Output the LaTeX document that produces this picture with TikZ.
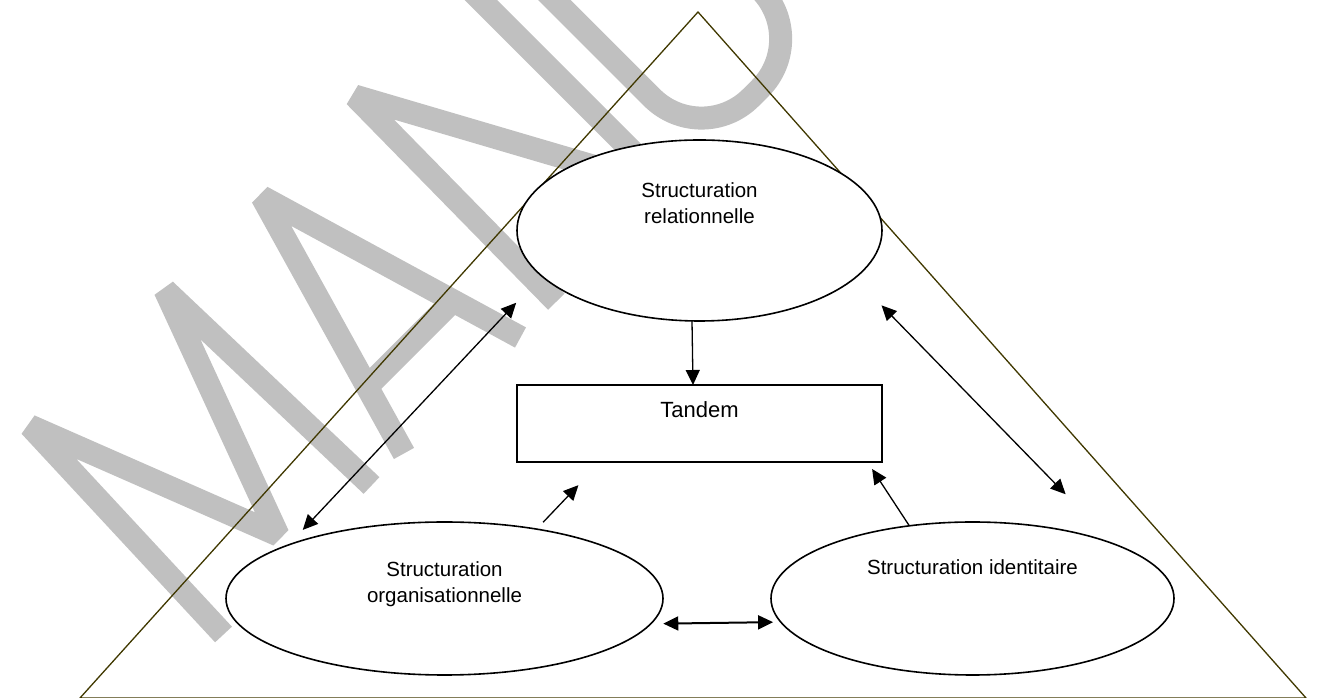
\documentclass[tikz,border=0pt]{standalone}
\usepackage{fontspec}
\setmainfont{Liberation Sans}
\usepackage{tikz}
\usetikzlibrary{shapes.geometric,positioning,arrows.meta}

\definecolor{wmgray}{RGB}{192,192,192}
\definecolor{triline}{RGB}{64,56,0}

\tikzset{
	bubble/.style={ellipse,draw,line width=1.6pt,fill=white,inner sep=0pt,outer sep=0pt},
	box/.style={rectangle,draw,line width=1.6pt,fill=white,minimum width=365pt,minimum height=77pt,inner sep=0pt,outer sep=0pt},
	lbl/.style={align=center,font=\fontsize{20.5}{26}\selectfont,inner sep=0pt},
	link/.style={line width=1.3pt,-{Triangle[length=15pt,width=14pt]}},
	dlink/.style={line width=1.3pt,{Triangle[length=15pt,width=14pt]}-{Triangle[length=15pt,width=14pt]}},
	wmark/.style={draw=wmgray,line width=23pt,line join=bevel}
}

\begin{document}
\begin{tikzpicture}[x=1pt,y=1pt,node distance=2cm,on grid,auto]
	\useasboundingbox (0,0) rectangle (1317,698);
	% watermark, drawn in its own slanted frame
	\begin{scope}[cm={0.7071,0.7071,0.7071,-0.7071,(0,698)}]
	\draw[wmark] (-290.6,606.7) -- (-280,322.4) -- (-181.7,574.9) -- (-88.4,321.7) -- (-80.6,606); % M
	\draw[wmark] (-35,606.3) -- (46,324.6) -- (129.4,606.7); % A
	\draw[wmark] (-14,533) -- (107.7,533);
	\draw[wmark] (180,606.7) -- (183,318.9) -- (340,606.7) -- (340,300); % N
	\draw[wmark,rounded corners=70pt] (392,290) -- (392,600) -- (545,600) -- (545,290); % U
	\end{scope}
	% triangle
	\coordinate (apex) at (698,686);
	\coordinate (baseL) at (80,0);
	\coordinate (baseR) at (1306,0);
	\draw[triline,line width=1.3pt] (apex) -- (baseL) -- (baseR) -- cycle;
	% nodes
	\node[box] (tandem) at (699.5,274.5) {};
	\node[bubble,minimum width=365pt,minimum height=181pt] (rel) [above=193pt of tandem] {};
	\node[bubble,minimum width=437pt,minimum height=153pt] (org) [below left=175pt and 255pt of tandem] {};
	\node[bubble,minimum width=403pt,minimum height=153pt] (ident) [below right=175pt and 273pt of tandem] {};
	\node[lbl] (rel-txt) at ([yshift=27pt]rel.center) {Structuration\\relationnelle};
	\node[lbl] (org-txt) at ([yshift=13.8pt]org.center) {Structuration\\organisationnelle};
	\node[lbl] (ident-txt) at ([yshift=31pt]ident.center) {Structuration identitaire};
	\node[lbl,font=\fontsize{22}{26}\selectfont] (tandem-txt) at ([yshift=13.5pt]tandem.center) {Tandem};
	% arrows
	\path[link]
	([xshift=-7.5pt]rel.south) edge ([xshift=-6.5pt]tandem.north)
	(org.37.5) edge [shorten <=9.5pt,shorten >=32pt] ([xshift=-99pt]tandem.south)
	(ident.131) edge [shorten >=8.4pt] ([xshift=168pt]tandem.south);
	\path[dlink]
	(org.161.6) edge [shorten <=20.5pt,shorten >=37pt] (rel.196.8)
	(rel.343.2) edge [shorten <=38.2pt,shorten >=69.6pt] (ident.21.8)
	(org.353.5) edge [line width=2pt,shorten <=12.6pt,shorten >=7.7pt] (ident.187);
\end{tikzpicture}
\end{document}
